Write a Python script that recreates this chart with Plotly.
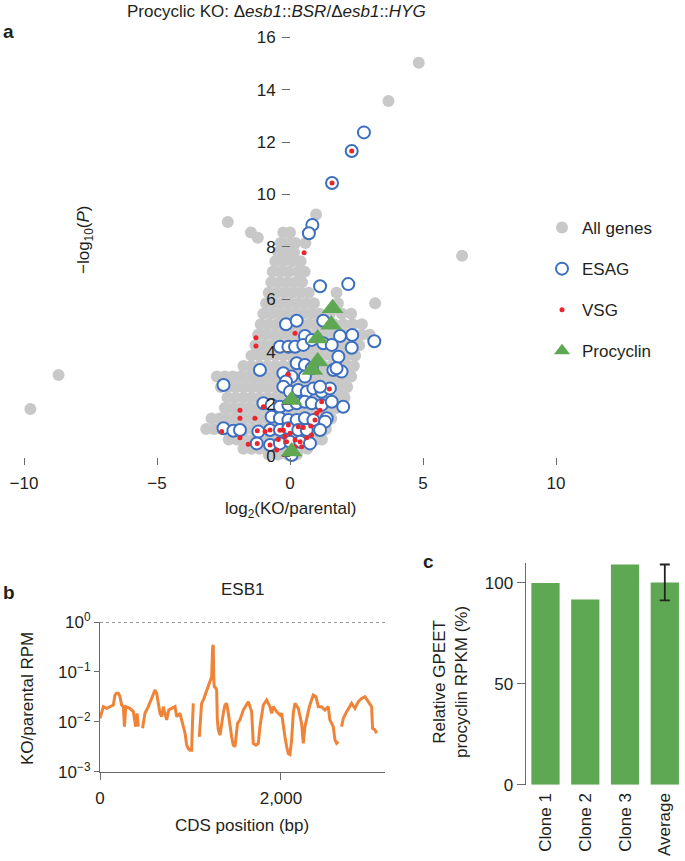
import plotly.graph_objects as go

W, H = 685, 861


def px(x):
    return x / W


def py(y):
    return 1 - y / H


# %% panel a - volcano plot (log2 KO/parental vs -log10 P)
gray_row_y = [8.95, 8.55, 8.35, 9.24, 8.15, 7.8, 7.45, 7.05, 6.65, 6.25, 5.85, 5.45, 5.05,
              4.65, 4.25, 3.85, 3.45, 3.05, 2.65, 2.25, 1.85, 1.45, 1.05, 0.65, 0.3, 0.08]
gray_row_x = [
    [-2.34],
    [-1.47, -0.25, 0.0],
    [-1.21],
    [0.98],
    [-0.35, -0.05, 0.2, 0.58],
    [-0.45, -0.15, 0.15],
    [-0.55, -0.25, 0.1, 0.4],
    [-0.65, -0.35, -0.05, 0.3, 0.55],
    [-0.7, -0.4, -0.1, 0.2, 0.45],
    [-0.8, -0.5, -0.2, 0.1, 0.4, 0.7, 1.75],
    [-0.9, -0.6, -0.3, 0.0, 0.3, 0.6, 0.9, 1.8, 3.2],
    [-1.0, -0.7, -0.4, -0.1, 0.2, 0.5, 0.8, 1.1, 1.5, 1.95, 2.3],
    [-1.1, -0.8, -0.5, -0.2, 0.1, 0.4, 0.7, 1.0, 1.3, 1.65, 2.0, 2.35, 2.7],
    [-1.2, -0.9, -0.6, -0.3, 0.0, 0.3, 0.6, 0.9, 1.2, 1.5, 1.8, 2.1, 2.4, 2.7, 3.0],
    [-1.3, -1.0, -0.7, -0.4, -0.1, 0.2, 0.5, 0.8, 1.1, 1.4, 1.7, 2.0, 2.3, 2.6],
    [-1.45, -1.15, -0.85, -0.55, -0.25, 0.05, 0.35, 0.65, 0.95, 1.25, 1.55, 1.85, 2.15, 2.45],
    [-1.75, -1.45, -1.15, -0.85, -0.55, -0.25, 0.05, 0.35, 0.65, 0.95, 1.25, 1.55, 1.85, 2.15, 2.4],
    [-2.75, -2.45, -2.15, -1.85, -1.55, -1.25, -0.95, -0.65, -0.35, -0.05, 0.25, 0.55, 0.85,
     1.15, 1.45, 1.75, 2.05, 2.3],
    [-2.6, -2.3, -2.0, -1.7, -1.4, -1.1, -0.8, -0.5, -0.2, 0.1, 0.4, 0.7, 1.0, 1.3, 1.6, 1.9, 2.15],
    [-2.35, -2.05, -1.75, -1.45, -1.15, -0.85, -0.55, -0.25, 0.05, 0.35, 0.65, 0.95, 1.25,
     1.55, 1.85, 2.05],
    [-2.45, -2.15, -1.85, -1.55, -1.25, -0.95, -0.65, -0.35, -0.05, 0.25, 0.55, 0.85, 1.15,
     1.45, 1.75],
    [-2.95, -2.65, -2.35, -2.05, -1.75, -1.45, -1.15, -0.85, -0.55, -0.25, 0.05, 0.35, 0.65,
     0.95, 1.25, 1.55],
    [-3.15, -2.85, -2.55, -2.25, -1.95, -1.65, -1.35, -1.05, -0.75, -0.45, -0.15, 0.15, 0.45,
     0.75, 1.05, 1.35],
    [-2.3, -2.0, -1.7, -1.4, -1.1, -0.8, -0.5, -0.2, 0.1, 0.4, 0.7, 1.0, 1.2],
    [-1.75, -1.45, -1.15, -0.85, -0.55, -0.25, 0.05, 0.35, 0.65],
    [-0.8, -0.45, -0.1, 0.25],
]
gray_out_x = [4.84, 3.70, 6.47, -9.76, -8.70]
gray_out_y = [15.03, 13.57, 7.66, 1.81, 3.11]

esag_x = [2.78, 2.32, 1.58, 0.84, 0.71, 1.13, 2.19,
          -0.15, 0.25, 1.25, 0.56, 1.88, 2.34, 3.17,
          2.32, -0.38, -0.06, 0.19, 0.5, 0.82, 1.25, 1.57,
          1.82, 0.25, 0.56, 0.82, 1.63, 1.94, 1.75,
          -1.13, -2.5, -0.25, 0.06, 0.56, -0.15,
          -0.25, 0.0, 0.31, 0.63, 0.88, 1.19, 1.5, 1.13,
          -1.0, -0.69, -0.38, -0.06, 0.25, 0.56, 0.82, 1.19, 1.57, 2.0,
          -0.69, -0.38, -0.06, 0.25, 0.56, 0.88, 1.38, 1.32,
          -2.5, -2.13, -1.88, -1.19, -0.75, -0.38, -0.06, 0.31, 0.63, 1.13,
          -1.25, -0.75, -0.38, 0.0, 0.38, 0.75, 0.06]
esag_y = [12.37, 11.66, 10.44, 8.84, 8.52, 6.5, 6.58,
          5.05, 5.18, 5.18, 4.6, 4.6, 4.64, 4.4,
          4.15, 4.19, 4.19, 4.19, 4.26, 4.45, 4.32, 4.26,
          3.81, 3.56, 3.49, 3.37, 3.3, 3.24, 3.37,
          3.3, 2.73, 3.18, 3.05, 3.05, 2.86,
          2.66, 2.47, 2.54, 2.47, 2.6, 2.47, 2.6, 2.66,
          2.03, 1.97, 1.9, 1.97, 2.03, 2.09, 2.03, 1.97, 2.09, 1.9,
          1.52, 1.46, 1.39, 1.39, 1.46, 1.39, 1.46, 1.33,
          1.08, 0.98, 1.01, 0.95, 1.01, 1.01, 1.08, 1.01, 1.01, 1.01,
          0.5, 0.44, 0.5, 0.56, 0.56, 0.5, 0.06]

vsg_x = [2.32, 1.58, 0.53, 0.19, -1.28, -1.28, -0.06, 1.48,
         -1.88, -1.88, -1.32, -1.0, -2.57, -1.88, -1.57, -1.23, -1.23, -0.75, -0.94, -0.38,
         -0.06, -0.19, -0.13, 0.19, 0.38, 0.31, 0.5, 0.78, 0.81, 0.94, 1.0, 1.13, 1.19,
         -0.5, 0.19, 0.44, 0.0, -0.25, -0.75, -0.44, 0.63]
vsg_y = [11.66, 10.44, 7.78, 4.7, 4.53, 4.22, 3.14, 2.58,
         1.77, 1.46, 1.46, 1.9, 0.95, 0.72, 0.47, 0.98, 0.5, 0.44, 0.95, 1.0,
         1.2, 0.76, 0.56, 0.63, 0.56, 1.14, 1.11, 1.16, 0.82, 1.39, 1.65, 1.77, 2.09,
         0.25, 0.37, 0.37, 0.89, 1.0, 1.01, 0.65, 0.72]

procyclin_x = [1.6, 1.55, 1.04, 1.04, 0.84, 0.06, 0.06]
procyclin_y = [5.66, 5.03, 4.5, 3.63, 3.3, 2.16, 0.19]

# %% panel b - ESB1 coverage ratio along the CDS (None = no coverage)
cds_pos = [0, 37, 74, 110, 147, 166, 184, 203, 221, 239, 258, 270, 285, 330, 368, 395, 410, 424,
           None,
           470, 497, 534, 571, 608, 626, 645, 663, 682, 700, 718, 737, 760, 792, 829, 847, 884,
           902, 921, 940, 958, 976, 994, 1013, 1022, 1031,
           None,
           1098, 1105, 1123, 1149, 1179, 1197, 1215, 1234, 1245, 1252, 1258, 1263, 1282, 1289,
           1297, 1308, 1326, 1344, 1363, 1381, 1400, 1418, 1436, 1455, 1473, 1492, 1520, 1547,
           1584, 1610, 1639, 1676, 1694, 1724, 1750, 1768, 1805, 1842, 1878, 1897, 1915, 1952,
           1989, 2007, 2026, 2044, 2063, 2081, 2099, 2118, 2136, 2155, 2192, 2228, 2247, 2265,
           2302, 2320, 2357, 2387, 2413, 2449, 2486, 2523, 2541, 2578, 2597, 2615, 2634,
           None,
           2670, 2689, 2726, 2762, 2781, 2818, 2855, 2891, 2928, 2965, 3002, 3013, 3039, 3057]
ko_ratio = [0.0117, 0.0201, 0.0186, 0.0201, 0.0217, 0.0344, 0.0372, 0.0372, 0.0319, 0.0217,
            0.0201, 0.0080, 0.0201, 0.0186, 0.0160, 0.0080, 0.0148, 0.0080,
            None,
            0.0074, 0.0148, 0.0201, 0.0295, 0.0434, 0.0372, 0.0234, 0.0148, 0.0127, 0.0201,
            0.0148, 0.0109, 0.0172, 0.0186, 0.0201, 0.0127, 0.0148, 0.0109, 0.0080, 0.0059,
            0.0034, 0.0029, 0.0027, 0.0027, 0.0093, 0.0234,
            None,
            0.0050, 0.0093, 0.0234, 0.0295, 0.0434, 0.0506, 0.069, 0.080, 0.32, 0.346, 0.069,
            0.0506, 0.0469, 0.0434, 0.0109, 0.0069, 0.0054, 0.0093, 0.0148, 0.0217, 0.0234,
            0.0148, 0.0080, 0.0050, 0.0034, 0.0032, 0.0093, 0.0109, 0.0172, 0.0201, 0.0253,
            0.0160, 0.0037, 0.0034, 0.0037, 0.0080, 0.0217, 0.0273, 0.0201, 0.0148, 0.0201,
            0.0160, 0.0137, 0.0148, 0.0080, 0.0050, 0.0032, 0.0023, 0.0022, 0.0043, 0.0148,
            0.0234, 0.0186, 0.0093, 0.0037, 0.0080, 0.0160, 0.0217, 0.0344, 0.0319, 0.0201,
            0.0201, 0.0172, 0.0201, 0.0109, 0.0080, 0.0043, 0.0037, 0.0040,
            None,
            0.0080, 0.0117, 0.0160, 0.0201, 0.0234, 0.0186, 0.0253, 0.0295, 0.0319, 0.0253,
            0.0201, 0.0074, 0.0069, 0.0059]
cds_end = 3150
parental_level = 1.0

# %% panel c - GPEET procyclin
clones = ["Clone 1", "Clone 2", "Clone 3", "Average"]
gpeet_rel = [100, 91.8, 109.1, 100.2]
avg_err = 8.9

# colours
GRAY = "#c8c8c8"
BLUE = "#3d6fc0"
RED = "#e8262b"
GREEN = "#5fa853"
ORANGE = "#ef8438"
AXIS = "#6a6a6a"
TXT = "#231f20"
FONT = "Liberation Sans, Arial, sans-serif"

gray_x = [x for xs in gray_row_x for x in xs]
gray_y = [y for y, xs in zip(gray_row_y, gray_row_x) for _ in xs]

fig = go.Figure()

fig.add_trace(go.Scatter(x=gray_x + gray_out_x, y=gray_y + gray_out_y, mode="markers",
                         marker=dict(color=GRAY, size=12), showlegend=False,
                         cliponaxis=False, hoverinfo="skip"))
fig.add_trace(go.Scatter(x=esag_x, y=esag_y, mode="markers",
                         marker=dict(color="white", size=12, line=dict(color=BLUE, width=2)),
                         showlegend=False, cliponaxis=False))
fig.add_trace(go.Scatter(x=vsg_x, y=vsg_y, mode="markers",
                         marker=dict(color=RED, size=5), showlegend=False, cliponaxis=False))
fig.add_trace(go.Scatter(x=procyclin_x, y=procyclin_y, mode="markers",
                         marker=dict(color=GREEN, size=19, symbol="triangle-up"),
                         showlegend=False, cliponaxis=False))

# legend entries
legend_items = [("All genes", dict(color=GRAY, size=12)),
                ("ESAG", dict(color="white", size=12, line=dict(color=BLUE, width=2))),
                ("VSG", dict(color=RED, size=5)),
                ("Procyclin", dict(color=GREEN, size=14, symbol="triangle-up"))]
for name, mk in legend_items:
    fig.add_trace(go.Scatter(x=[None], y=[None], mode="markers", name=name, marker=mk,
                             legendgroup=name, showlegend=True))

# panel b
fig.add_trace(go.Scatter(x=[0, cds_end], y=[parental_level, parental_level], mode="lines",
                         line=dict(color="#333333", width=1.2, dash="dot"),
                         xaxis="x2", yaxis="y2", showlegend=False, cliponaxis=False))
fig.add_trace(go.Scatter(x=cds_pos, y=ko_ratio, mode="lines",
                         line=dict(color=ORANGE, width=3), connectgaps=False,
                         xaxis="x2", yaxis="y2", showlegend=False))

# panel c
fig.add_trace(go.Bar(x=clones, y=gpeet_rel, marker=dict(color=GREEN, line=dict(width=0)),
                     xaxis="x3", yaxis="y3", showlegend=False))
fig.add_trace(go.Scatter(x=clones[-1:], y=gpeet_rel[-1:], mode="markers",
                         marker=dict(size=1, opacity=0),
                         error_y=dict(type="data", array=[avg_err], color="#222222",
                                      thickness=1.8, width=5),
                         xaxis="x3", yaxis="y3", showlegend=False, cliponaxis=False))

ax = dict(showgrid=False, zeroline=False, linecolor=AXIS, tickcolor=AXIS, linewidth=1.2,
          tickwidth=1.2, automargin=False, tickfont=dict(size=17, color=TXT, family=FONT))

xa_dom = [px(24), px(556)]
y_pos = px(290)
fig.update_layout(
    template="none",
    width=W, height=H, margin=dict(l=0, r=0, t=0, b=0, pad=0), autosize=False,
    paper_bgcolor="white", plot_bgcolor="white",
    font=dict(family=FONT, size=17, color=TXT),
    bargap=0.29,
    # panel a: labels on the main axis (drawn above the points),
    # axis line on an overlay drawn below the points
    xaxis=dict(ax, domain=xa_dom, range=[-10, 10], anchor="y", showline=False,
               tickvals=[-10, -5, 0, 5, 10], ticks="outside", ticklen=7,
               ticklabelstandoff=4),
    yaxis=dict(ax, domain=[py(456.5), py(37.3)], range=[0, 16], anchor="free",
               position=y_pos, showline=False, dtick=2, ticks="outside", ticklen=8,
               tick0=0, ticklabelstandoff=3),
    xaxis4=dict(ax, overlaying="x", range=[-10, 10], anchor="y", showline=True,
                tickvals=[-10, -5, 5, 10], ticks="inside", ticklen=7, showticklabels=False,
                layer="below traces"),
    yaxis4=dict(ax, overlaying="y", range=[0, 16], anchor="free", position=y_pos,
                showline=True, dtick=2, tick0=0, ticks="inside", ticklen=8,
                showticklabels=False, layer="below traces"),
    # panel b
    xaxis2=dict(ax, domain=[px(100), px(385)], range=[0, cds_end], anchor="y2",
                showline=True, tickvals=[0, 2000], ticktext=["0", "2,000"],
                ticks="outside", ticklen=7, ticklabelstandoff=4),
    yaxis2=dict(ax, domain=[py(771.7), py(622)], type="log", range=[-3, 0], anchor="x2",
                showline=True, tickvals=[0.001, 0.01, 0.1, 1],
                ticktext=["10<sup>\u22123</sup>", "10<sup>\u22122</sup>",
                          "10<sup>\u22121</sup>", "10<sup>0</sup>"],
                ticks="outside", ticklen=5),
    xaxis5=dict(ax, overlaying="x2", range=[0, cds_end], anchor="y2", showline=False,
                tickvals=[0, 2000], ticks="inside", ticklen=7, showticklabels=False),
    yaxis5=dict(ax, overlaying="y2", type="log", range=[-3, 0], anchor="x2", showline=False,
                tickvals=[0.001, 0.01, 0.1, 1], ticks="inside", ticklen=6,
                showticklabels=False,
                minor=dict(ticks="inside", ticklen=3, tickcolor=AXIS, tickwidth=1,
                           tickvals=[m * d for d in [0.001, 0.01, 0.1] for m in range(2, 10)])),
    # panel c
    xaxis3=dict(ax, domain=[px(525.6), px(684.7)], anchor="y3", showline=False,
                ticks="", tickangle=-90, ticklabelstandoff=4),
    yaxis3=dict(ax, domain=[py(784.7), py(562.7)], range=[0, 110], anchor="x3",
                showline=True, tickvals=[0, 50, 100], ticks="outside", ticklen=8),
    yaxis6=dict(ax, overlaying="y3", range=[0, 110], anchor="x3", showline=False,
                tickvals=[0, 50, 100], ticks="inside", ticklen=7, showticklabels=False),
    legend=dict(x=px(542), y=py(210), xanchor="left", yanchor="top", tracegroupgap=16,
                font=dict(size=17, color=TXT), bgcolor="rgba(0,0,0,0)", itemsizing="trace"),
)


def label(text, x, y, size=17, angle=0, xanchor="center"):
    fig.add_annotation(text=text, x=px(x), y=py(y), xref="paper", yref="paper",
                       xanchor=xanchor, yanchor="middle", showarrow=False, textangle=angle,
                       font=dict(size=size, color=TXT))


label("Procyclic KO: \u0394<i>esb1</i>::<i>BSR</i>/\u0394<i>esb1</i>::<i>HYG</i>", 276, 12)
label("<b>a</b>", 1, 31, size=19, xanchor="left")
label("<b>b</b>", 1, 592, size=19, xanchor="left")
label("<b>c</b>", 421, 561, size=19, xanchor="left")
label("\u2212log<sub>10</sub>(<i>P</i>)", 85, 240, angle=-90)
label("log<sub>2</sub>(KO/parental)", 290, 510)
label("ESB1", 242, 589)
label("KO/parental RPM", 27, 699, angle=-90)
label("CDS position (bp)", 242, 825)
label("Relative GPEET<br>procyclin RPKM (%)", 450, 682, angle=-90)

# the page body has a default 8px margin; drop it so the figure fills the window
fig.write_html("out.html", config={"displayModeBar": False},
               post_script="document.body.style.margin='0px';")
